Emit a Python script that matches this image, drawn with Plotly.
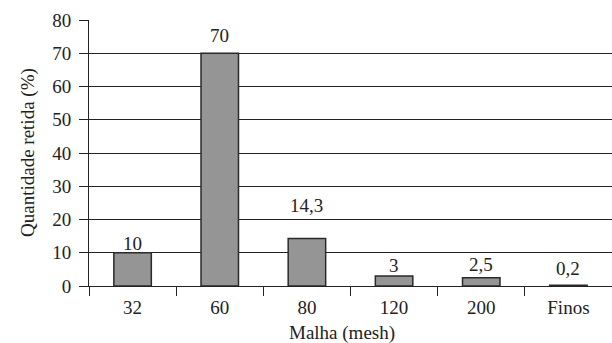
import plotly.graph_objects as go

categories = ["32", "60", "80", "120", "200", "Finos"]
values = [10, 70, 14.3, 3, 2.5, 0.2]
value_labels = ["10", "70", "14,3", "3", "2,5", "0,2"]
y_ticks = [0, 10, 20, 30, 40, 50, 60, 70, 80]

# vertical pixel offsets of the value labels above each bar top (style)
label_shift_px = [9, 18, 33, 11, 13, 17]

FONT = "Liberation Serif"
TXT = "#222222"

fig = go.Figure()
fig.add_trace(go.Bar(
    x=categories, y=values, width=0.43,
    marker=dict(color="#959595", line=dict(color="#2a2a2a", width=1.5)),
    hoverinfo="skip",
))

for i, (v, lab, sh) in enumerate(zip(values, value_labels, label_shift_px)):
    fig.add_annotation(x=i, y=v, text=lab, showarrow=False,
                       xref="x", yref="y", yanchor="middle", yshift=sh,
                       font=dict(family=FONT, size=19, color=TXT))

fig.add_annotation(text="Malha (mesh)", xref="paper", yref="paper",
                   x=0.484, y=-0.177, xanchor="center", yanchor="middle",
                   showarrow=False, font=dict(family=FONT, size=19, color=TXT))
fig.add_annotation(text="Quantidade retida (%)", xref="paper", yref="paper",
                   x=-0.1166, y=0.5, xanchor="center", yanchor="middle",
                   textangle=-90, showarrow=False,
                   font=dict(family=FONT, size=19, color=TXT))

fig.update_layout(
    width=612, height=343,
    margin=dict(l=89, r=0, t=20, b=57),
    paper_bgcolor="white", plot_bgcolor="white",
    showlegend=False,
    font=dict(family=FONT, size=19, color=TXT),
)
fig.update_xaxes(
    type="category", range=[-0.5, 5.5],
    showline=True, linecolor="#222222", linewidth=1,
    ticks="outside", tickson="boundaries", ticklen=9, tickcolor="#222222", tickwidth=1,
    showgrid=False, zeroline=False, ticklabelstandoff=4,
    tickfont=dict(family=FONT, size=19, color=TXT),
)
fig.update_yaxes(
    range=[0, 80], tickvals=y_ticks,
    showline=True, linecolor="#222222", linewidth=1,
    ticks="outside", ticklen=9, tickcolor="#222222", tickwidth=1,
    showgrid=True, gridcolor="#222222", gridwidth=1,
    zeroline=False, ticklabelstandoff=4,
    tickfont=dict(family=FONT, size=19, color=TXT),
)

fig.write_html("out.html", config={"displayModeBar": False},
               post_script="document.body.style.margin='0';document.body.style.overflow='hidden';")
